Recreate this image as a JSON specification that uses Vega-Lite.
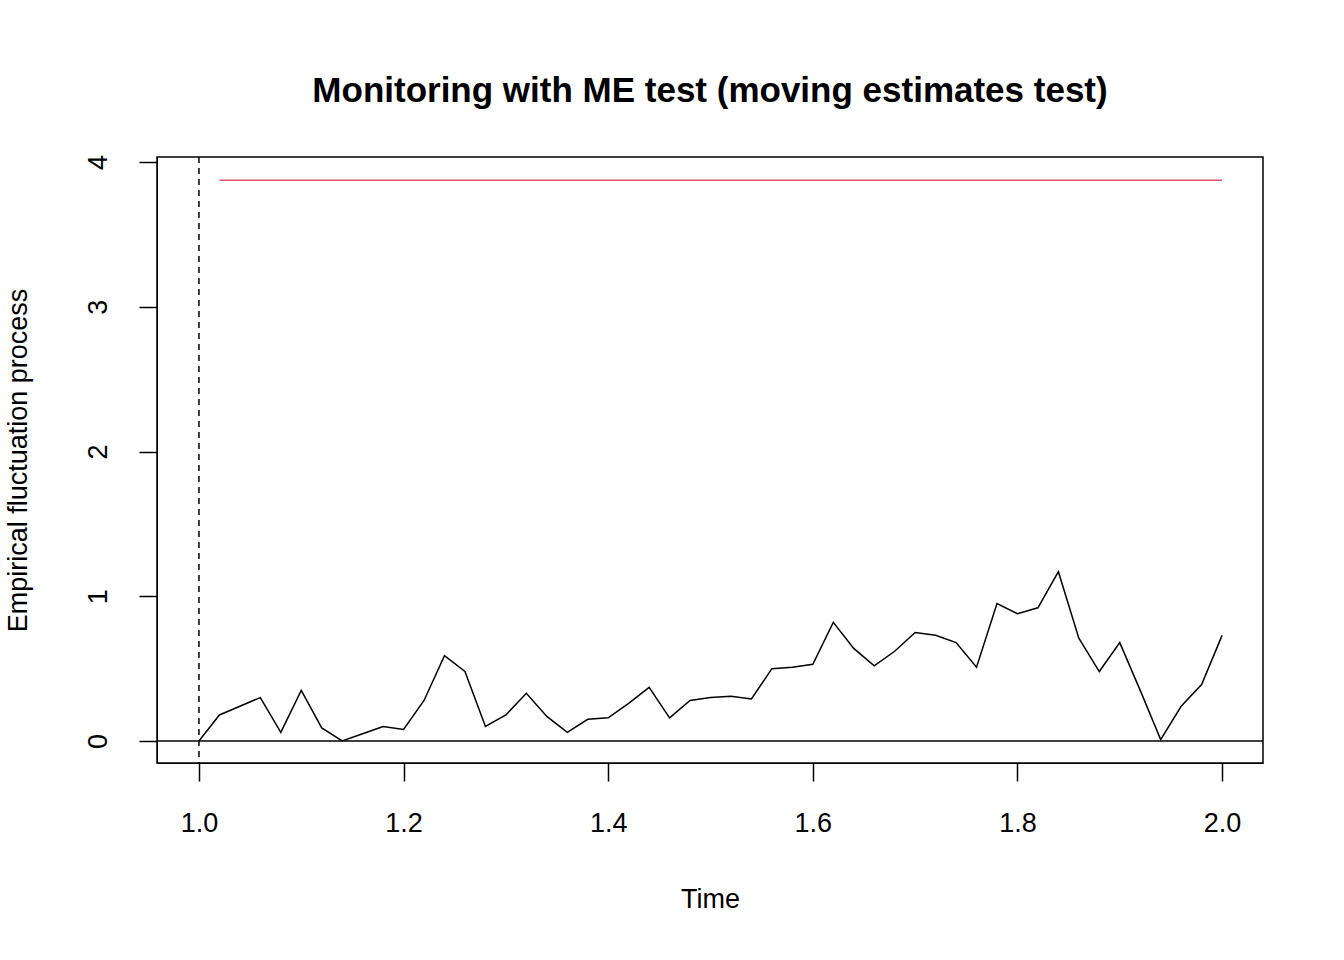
{
"$schema":"https://vega.github.io/schema/vega-lite/v6.json",
"width":1106,"height":606,
"autosize":{"type":"none"},
"padding":{"left":157,"top":157,"right":81,"bottom":197},
"background":"white",
"config":{"view":{"stroke":"black","strokeWidth":1.5},"font":"Liberation Sans"},
"title":{"text":"Monitoring with ME test (moving estimates test)","fontSize":35,"font":"Liberation Sans","fontWeight":"bold","color":"black","anchor":"middle","offset":46},
"datasets":{
"proc":[
{"t":1.00,"v":0},{"t":1.02,"v":0.18},{"t":1.04,"v":0.24},{"t":1.06,"v":0.30},{"t":1.08,"v":0.06},{"t":1.10,"v":0.35},{"t":1.12,"v":0.09},{"t":1.14,"v":0.0},{"t":1.16,"v":0.05},{"t":1.18,"v":0.10},{"t":1.20,"v":0.08},{"t":1.22,"v":0.28},{"t":1.24,"v":0.59},{"t":1.26,"v":0.48},{"t":1.28,"v":0.10},{"t":1.30,"v":0.18},{"t":1.32,"v":0.33},{"t":1.34,"v":0.17},{"t":1.36,"v":0.06},{"t":1.38,"v":0.15},{"t":1.40,"v":0.16},{"t":1.42,"v":0.26},{"t":1.44,"v":0.37},{"t":1.46,"v":0.16},{"t":1.48,"v":0.28},{"t":1.50,"v":0.30},{"t":1.52,"v":0.31},{"t":1.54,"v":0.29},{"t":1.56,"v":0.50},{"t":1.58,"v":0.51},{"t":1.60,"v":0.53},{"t":1.62,"v":0.82},{"t":1.64,"v":0.64},{"t":1.66,"v":0.52},{"t":1.68,"v":0.62},{"t":1.70,"v":0.75},{"t":1.72,"v":0.73},{"t":1.74,"v":0.68},{"t":1.76,"v":0.51},{"t":1.78,"v":0.95},{"t":1.80,"v":0.88},{"t":1.82,"v":0.92},{"t":1.84,"v":1.17},{"t":1.86,"v":0.71},{"t":1.88,"v":0.48},{"t":1.90,"v":0.68},{"t":1.92,"v":0.35},{"t":1.94,"v":0.01},{"t":1.96,"v":0.24},{"t":1.98,"v":0.39},{"t":2.00,"v":0.73}],
"bound":[{"t":1.02,"v":3.875},{"t":2.0,"v":3.875}]
},
"layer":[
{"data":{"values":[{"y":0}]},"mark":{"type":"rule","color":"black","strokeWidth":1.5},"encoding":{"y":{"field":"y","type":"quantitative","scale":{"domain":[-0.152,4.035],"nice":false,"zero":false}}}},
{"data":{"values":[{"x":1.0}]},"mark":{"type":"rule","color":"black","strokeDash":[6,5],"strokeWidth":1.5},"encoding":{"x":{"field":"x","type":"quantitative","scale":{"domain":[0.959,2.040],"nice":false,"zero":false}}}},
{"data":{"name":"bound"},"mark":{"type":"line","color":"#DF536B","strokeWidth":1.5},"encoding":{"x":{"field":"t","type":"quantitative"},"y":{"field":"v","type":"quantitative"}}},
{"data":{"name":"proc"},"mark":{"type":"line","color":"black","strokeWidth":1.5},
"encoding":{
"x":{"field":"t","type":"quantitative","scale":{"domain":[0.959,2.040],"nice":false,"zero":false},
"axis":{"title":"Time","values":[1.0,1.2,1.4,1.6,1.8,2.0],"format":".1f","grid":false,"domainColor":"black","tickColor":"black","tickSize":18,"tickWidth":1.5,"labelFontSize":27,"labelColor":"black","labelPadding":29,"titleFontSize":27,"titleFontWeight":"normal","titleColor":"black","titlePadding":50}},
"y":{"field":"v","type":"quantitative","scale":{"domain":[-0.152,4.035],"nice":false,"zero":false},
"axis":{"title":"Empirical fluctuation process","values":[0,1,2,3,4],"format":"d","grid":false,"domainColor":"black","tickColor":"black","tickSize":18,"tickWidth":1.5,"labelFontSize":27,"labelColor":"black","labelAngle":-90,"labelAlign":"center","labelBaseline":"bottom","labelPadding":27,"titleFontSize":27,"titleFontWeight":"normal","titleColor":"black","titlePadding":52}}}}
]
}
